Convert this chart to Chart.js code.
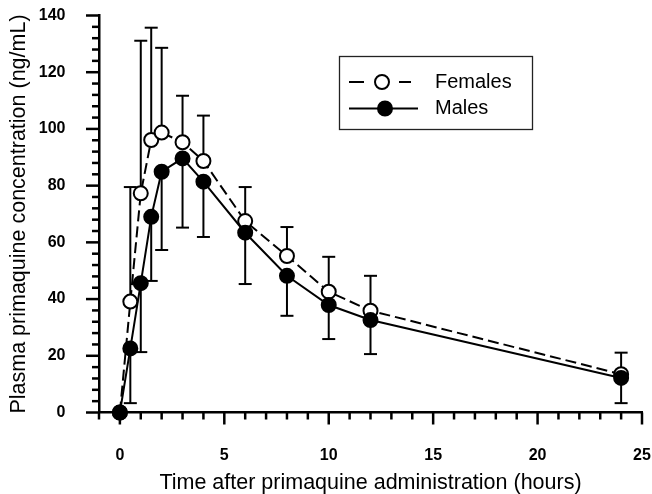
<!DOCTYPE html>
<html><head><meta charset="utf-8">
<script src="https://cdn.jsdelivr.net/npm/chart.js@4"></script>
<style>html,body{margin:0;padding:0;background:#fff}#wrap{width:652px;height:494px}</style>
</head><body><div id="wrap"><canvas id="c" width="652" height="494"></canvas></div>
<script>
// ---- data ----
const times = [0, 0.5, 1, 1.5, 2, 3, 4, 6, 8, 10, 12, 24];
const femaleMean = [0, 39.1, 77.3, 96.1, 98.7, 95.3, 88.7, 67.5, 55.2, 42.6, 35.9, 13.5];
const femaleSD   = [0, 40.4, 53.8, 39.6, 29.9, 16.4, 16.0, 12.0, 10.2, 12.3, 12.3, 7.6];
const maleMean   = [0, 22.6, 45.6, 69.0, 84.9, 89.6, 81.4, 63.4, 48.2, 37.9, 32.6, 12.2];
const maleSD     = [0, 19.3, 24.3, 22.6, 27.6, 24.4, 19.5, 18.1, 14.1, 12.0, 12.0, 8.9];
const seriesNames = ['Females', 'Males'];
const xMajorTicks = [0, 5, 10, 15, 20, 25];
const yMajorTicks = [0, 20, 40, 60, 80, 100, 120, 140];
const xMinorStep = 1;
const yMinorStep = 4;
const xTitle = 'Time after primaquine administration (hours)';
const yTitle = 'Plasma primaquine concentration (ng/mL)';

const FONT = '"Liberation Sans", Arial, Helvetica, sans-serif';

const axisTicks = {
  id: 'axisTicks',
  beforeDatasetsDraw(chart) {
    const {ctx, scales: {x, y}, chartArea: a} = chart;
    ctx.save();
    ctx.strokeStyle = '#000';
    ctx.lineWidth = 2.5;
    ctx.lineCap = 'butt';
    for (let v = x.min; v <= x.max + 1e-9; v += xMinorStep) {
      const px = x.getPixelForValue(v);
      const len = xMajorTicks.includes(v) ? 12 : 7;
      ctx.beginPath(); ctx.moveTo(px, a.bottom); ctx.lineTo(px, a.bottom + len); ctx.stroke();
    }
    for (let v = y.min; v <= y.max + 1e-9; v += yMinorStep) {
      const py = y.getPixelForValue(v);
      const len = yMajorTicks.includes(v) ? 13 : 7;
      ctx.beginPath(); ctx.moveTo(a.left, py); ctx.lineTo(a.left - len, py); ctx.stroke();
    }
    ctx.restore();
  }
};

const errorBars = {
  id: 'errorBars',
  beforeDatasetsDraw(chart) {
    const {ctx, scales: {x, y}} = chart;
    ctx.save();
    ctx.strokeStyle = '#000';
    ctx.lineWidth = 2;
    chart.data.datasets.forEach(ds => {
      ds.data.forEach((p, j) => {
        const sd = ds.err[j];
        if (!sd) return;
        const px = x.getPixelForValue(p.x);
        const py = y.getPixelForValue(p.y);
        const pe = y.getPixelForValue(p.y + ds.errDir * sd);
        ctx.beginPath(); ctx.moveTo(px, py); ctx.lineTo(px, pe); ctx.stroke();
        ctx.beginPath(); ctx.moveTo(px - 6.5, pe); ctx.lineTo(px + 6.5, pe); ctx.stroke();
      });
    });
    ctx.restore();
  }
};

const customLegend = {
  id: 'customLegend',
  afterDraw(chart) {
    const ctx = chart.ctx;
    const ds = chart.data.datasets;
    ctx.save();
    ctx.strokeStyle = '#222';
    ctx.lineWidth = 1.3;
    ctx.strokeRect(339.5, 56.5, 193, 73);
    // Females
    ctx.strokeStyle = '#000';
    ctx.lineWidth = 2;
    ctx.beginPath(); ctx.moveTo(349, 82); ctx.lineTo(364, 82); ctx.moveTo(399, 82); ctx.lineTo(411, 82); ctx.stroke();
    ctx.beginPath(); ctx.arc(382, 82, 7, 0, Math.PI * 2);
    ctx.fillStyle = ds[0].pointBackgroundColor; ctx.fill(); ctx.stroke();
    // Males
    ctx.beginPath(); ctx.moveTo(349, 108.5); ctx.lineTo(418, 108.5); ctx.stroke();
    ctx.beginPath(); ctx.arc(385, 108.5, 7, 0, Math.PI * 2);
    ctx.fillStyle = ds[1].pointBackgroundColor; ctx.fill(); ctx.stroke();
    ctx.fillStyle = '#000';
    ctx.font = '20px ' + FONT;
    ctx.textBaseline = 'middle';
    ctx.textAlign = 'left';
    ctx.fillText(ds[0].label, 435, 82);
    ctx.fillText(ds[1].label, 435, 108.5);
    ctx.restore();
  }
};

const toPts = (m) => times.map((t, i) => ({x: t, y: m[i]}));

new Chart(document.getElementById('c'), {
  type: 'line',
  data: {
    datasets: [
      {
        label: seriesNames[0], data: toPts(femaleMean), err: femaleSD, errDir: 1,
        borderColor: '#000', borderWidth: 2, borderDash: [11, 5],
        pointRadius: 7, pointBorderWidth: 2, pointBackgroundColor: '#fff', pointBorderColor: '#000',
        pointHoverRadius: 7, tension: 0, order: 1, clip: false
      },
      {
        label: seriesNames[1], data: toPts(maleMean), err: maleSD, errDir: -1,
        borderColor: '#000', borderWidth: 2,
        pointRadius: 7, pointBorderWidth: 2, pointBackgroundColor: '#000', pointBorderColor: '#000',
        pointHoverRadius: 7, tension: 0, order: 0, clip: false
      }
    ]
  },
  options: {
    responsive: false,
    animation: false,
    devicePixelRatio: 1,
    layout: {padding: {top: 15.5, right: 10, left: 0, bottom: 0}},
    plugins: {legend: {display: false}, tooltip: {enabled: false}},
    scales: {
      x: {
        type: 'linear', min: -1, max: 25,
        afterBuildTicks: s => { s.ticks = xMajorTicks.map(v => ({value: v})); },
        afterFit: s => { s.height = 81.5; s.paddingLeft = 0; s.paddingRight = 0; },
        grid: {display: false},
        border: {display: true, color: '#000', width: 2.5},
        ticks: {font: {family: FONT, size: 16, weight: 'bold'}, color: '#000', padding: 25.5, maxRotation: 0, autoSkip: false},
        title: {display: true, text: xTitle, color: '#000', font: {family: FONT, size: 21.5}, padding: {top: 0, bottom: -2}}
      },
      y: {
        type: 'linear', min: 0, max: 140,
        afterBuildTicks: s => { s.ticks = yMajorTicks.map(v => ({value: v})); },
        afterFit: s => { s.width = 99; s.paddingTop = 0; s.paddingBottom = 0; },
        grid: {display: false},
        border: {display: true, color: '#000', width: 2.5},
        ticks: {font: {family: FONT, size: 16, weight: 'bold'}, color: '#000', padding: 25.5, autoSkip: false},
        title: {display: true, text: yTitle, color: '#000', font: {family: FONT, size: 21.5}, padding: {top: 6.5, bottom: 0}}
      }
    }
  },
  plugins: [axisTicks, errorBars, customLegend]
});
</script>
</body></html>
